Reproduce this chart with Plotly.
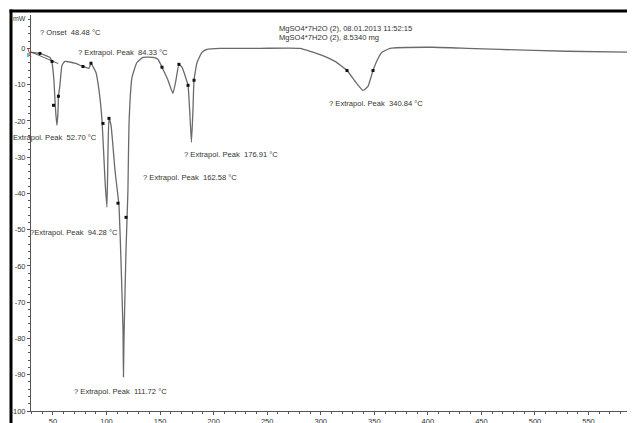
import plotly.graph_objects as go

# DSC curve (temperature °C, heat flow mW)
temp = [29.5, 37.9, 47.2, 49.1, 50.9, 51.9, 52.8, 53.7, 54.7, 55.1, 56.5, 58.4, 61.2, 70.5, 78.0,
        83.6, 85.5, 87.3, 90.1, 93.0, 95.8, 98.6, 100.4, 101.4, 102.3, 104.2, 107.9, 111.6,
        113.5, 115.4, 115.8, 116.3, 118.2, 120.0, 121.0, 123.8, 128.4, 134.0, 143.4, 148.0,
        151.8, 157.4, 162.0, 164.8, 167.6, 170.4, 174.2, 176.1, 177.9, 179.3, 180.7, 181.7,
        184.5, 189.1, 193.8, 205.9, 243.3, 280.6, 299.3, 313.3, 324.5, 332.9, 339.5, 344.1,
        348.8, 353.5, 357.2, 364.7, 404.8, 436.6, 467.4, 529.9, 593.4]
heat = [-1.1, -1.4, -2.5, -3.9, -8.8, -14.3, -18.5, -21.2, -17.6, -13.2, -10.2, -4.7, -3.6, -4.1, -5.0,
        -5.5, -4.1, -5.0, -6.6, -11.6, -19.8, -36.4, -43.8, -28.1, -19.3, -21.2, -33.6, -43.3,
        -58.4, -77.7, -90.6, -80.4, -55.6, -39.1, -20.7, -8.0, -3.9, -2.5, -2.5, -3.0,
        -5.2, -8.8, -12.4, -8.8, -4.4, -5.2, -8.3, -10.2, -18.5, -25.9, -17.1, -8.8,
        -3.9, -1.1, -0.3, 0.0, 0.0, 0.0, -1.7, -3.6, -6.1, -9.4, -11.6, -10.5,
        -6.1, -2.8, -1.1, 0.0, 0.3, 0.0, -0.3, -0.8, -1.1]

# evaluation points (tangent markers)
mark_temp = [37.9, 49.1, 50.5, 55.1, 78.0, 85.5, 96.7, 102.3, 110.7, 118.2, 151.8, 167.6, 176.1, 181.7, 324.5, 348.8]
mark_heat = [-1.4, -3.6, -15.7, -13.2, -5.0, -4.1, -20.7, -19.3, -42.7, -46.6, -5.2, -4.4, -10.2, -8.8, -6.1, -6.1]

# onset tangent
onset_x = [29.5, 55.0]
onset_y = [-1.0, -4.2]

# annotations in page pixels: (left x, centre y, text)
labels_px = [39, 77, 12, 183, 142, 29, 73, 328, 278, 278]
labels_py = [32, 52, 137, 154, 177, 232, 391, 104, 28, 37]
labels_t = ["? Onset  48.48 °C", "? Extrapol. Peak  84.33 °C", "Extrapol. Peak  52.70 °C",
            "? Extrapol. Peak  176.91 °C", "? Extrapol. Peak  162.58 °C", "?Extrapol. Peak  94.28 °C",
            "? Extrapol. Peak  111.72 °C", "? Extrapol. Peak  340.84 °C",
            "MgSO4*7H2O (2), 08.01.2013 11:52:15", "MgSO4*7H2O (2), 8.5340 mg"]

y_ticks = [0, -10, -20, -30, -40, -50, -60, -70, -80, -90, -100]
x_ticks = [50, 100, 150, 200, 250, 300, 350, 400, 450, 500, 550]

FONT = "Liberation Sans"
TXT = "#333333"

# the page body adds an 8 px offset; plot area sits at page x 31..635, y 15..411
OFF = 8


def px2paper_x(px):
    return (px - 31) / 604


def px2paper_y(py):
    return (411 - py) / 396


fig = go.Figure()
fig.add_trace(go.Scatter(x=temp, y=heat, mode="lines",
                         line=dict(color="#6a6a6a", width=1.3, shape="spline", smoothing=0.4),
                         hoverinfo="skip"))
fig.add_trace(go.Scatter(x=onset_x, y=onset_y, mode="lines",
                         line=dict(color="#333333", width=0.8), hoverinfo="skip"))
fig.add_trace(go.Scatter(x=mark_temp, y=mark_heat, mode="markers",
                         marker=dict(color="#111111", size=3, symbol="square"), hoverinfo="skip"))

for px, py, t in zip(labels_px, labels_py, labels_t):
    fig.add_annotation(x=px2paper_x(px), y=px2paper_y(py), xref="paper", yref="paper", text=t,
                       showarrow=False, xanchor="left", yanchor="middle", borderpad=0,
                       font=dict(family=FONT, size=7.6, color=TXT))

fig.add_annotation(x=px2paper_x(12), y=px2paper_y(19), xref="paper", yref="paper", text="mW",
                   showarrow=False, xanchor="left", yanchor="middle", borderpad=0,
                   font=dict(family=FONT, size=7, color=TXT))

# black frame (top and left)
fig.add_shape(type="line", xref="paper", yref="paper",
              x0=px2paper_x(9.5), x1=px2paper_x(640), y0=px2paper_y(11), y1=px2paper_y(11),
              line=dict(color="black", width=3))
fig.add_shape(type="line", xref="paper", yref="paper",
              x0=px2paper_x(11), x1=px2paper_x(11), y0=px2paper_y(9.5), y1=px2paper_y(430),
              line=dict(color="black", width=3))
# small coloured start marks
fig.add_shape(type="line", xref="paper", yref="paper",
              x0=px2paper_x(28), x1=px2paper_x(31), y0=px2paper_y(49), y1=px2paper_y(57),
              line=dict(color="#e03030", width=1))
fig.add_shape(type="rect", xref="paper", yref="paper",
              x0=px2paper_x(27), x1=px2paper_x(29), y0=px2paper_y(53), y1=px2paper_y(57),
              line=dict(width=0), fillcolor="#40d0e0")

fig.update_layout(
    width=635 - OFF, height=423 - OFF,
    margin=dict(l=31 - OFF, r=0, t=15 - OFF, b=12),
    paper_bgcolor="white", plot_bgcolor="white",
    showlegend=False,
    font=dict(family=FONT, size=7, color=TXT),
)
fig.update_xaxes(range=[29.5, 593.4], showgrid=False, zeroline=False, showline=True,
                 linecolor="#555555", linewidth=1, ticks="outside", ticklen=3, tickcolor="#555555",
                 tickvals=x_ticks, ticktext=[str(v) for v in x_ticks],
                 minor=dict(dtick=10, ticks="outside", ticklen=2, tickcolor="#555555"),
                 tickfont=dict(family=FONT, size=7.5, color=TXT), automargin=False)
fig.update_yaxes(range=[-100, 9.2], showgrid=False, zeroline=False, showline=True,
                 linecolor="#555555", linewidth=1, ticks="outside", ticklen=3, tickcolor="#555555",
                 tickvals=y_ticks, ticktext=[str(v) for v in y_ticks],
                 minor=dict(dtick=2, ticks="outside", ticklen=2, tickcolor="#555555"),
                 tickfont=dict(family=FONT, size=7.5, color=TXT), automargin=False)

fig.write_html("out.html")
